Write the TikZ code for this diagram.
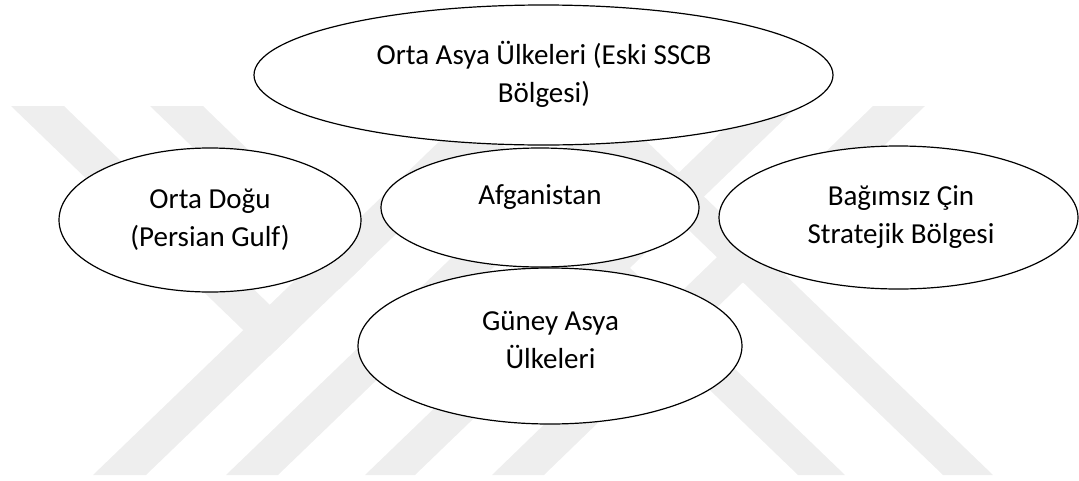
\documentclass[tikz,border=0pt]{standalone}
\usepackage{fontspec}
\setmainfont{Carlito}
\usetikzlibrary{shapes.geometric}
\definecolor{wm}{HTML}{EEEEEE}
\tikzset{
  region/.style={ellipse, draw=black, line width=1.2pt, fill=white, inner sep=0pt},
  lbl/.style={anchor=base, inner sep=0pt, font=\fontsize{29}{38}\selectfont, text=black},
  wmband/.style={fill=wm, draw=none}
}
\begin{document}
\begin{tikzpicture}[x=1pt, y=-1pt]
\useasboundingbox (0,0) rectangle (1079,480);
% faint watermark
\fill[wmband] (11,106) -- (64,106) -- (296.3,330.4) -- (269.9,355.9) -- cycle;
\fill[wmband] (150,106) -- (203,106) -- (365.9,263.6) -- (339.4,289.1) -- cycle;
\fill[wmband] (93,475) -- (146,475) -- (529,106) -- (476,106) -- cycle;
\fill[wmband] (226,475) -- (278,475) -- (661,106) -- (609,106) -- cycle;
\fill[wmband] (365,475) -- (415,475) -- (798,106) -- (748,106) -- cycle;
\fill[wmband] (492,475) -- (544,475) -- (925,106) -- (873,106) -- cycle;
\fill[wmband] (798,475) -- (845,475) -- (462,106) -- (415,106) -- cycle;
\fill[wmband] (943,475) -- (993,475) -- (610,106) -- (560,106) -- cycle;
% regions
\node[region, minimum width=579pt, minimum height=140pt] (top) at (543.5,75) {};
\node[region, minimum width=302pt, minimum height=144pt] (od) at (210,220) {};
\node[region, minimum width=318pt, minimum height=119pt] (afg) at (540,207.5) {};
\node[region, minimum width=359pt, minimum height=143pt] (cin) at (898.5,217.5) {};
\node[region, minimum width=384pt, minimum height=156pt] (gun) at (550,346) {};
% labels
\node[lbl] (top1) at (544,64) {Orta Asya Ülkeleri (Eski SSCB};
\node[lbl] (top2) at (544,102) {Bölgesi)};
\node[lbl] (od1) at (210,208) {Orta Doğu};
\node[lbl] (od2) at (210,246) {(Persian Gulf)};
\node[lbl] (afg1) at (540,204) {Afganistan};
\node[lbl] (cin1) at (901,205) {Bağımsız Çin};
\node[lbl] (cin2) at (901,243) {Stratejik Bölgesi};
\node[lbl] (gun1) at (550.5,330) {Güney Asya};
\node[lbl] (gun2) at (550.5,368) {Ülkeleri};
\end{tikzpicture}
\end{document}
